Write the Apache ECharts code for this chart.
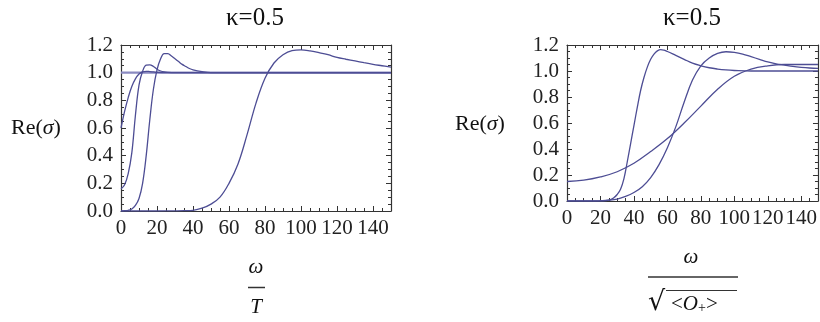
<!DOCTYPE html>
<html>
<head>
<meta charset="utf-8">
<script src="https://cdn.jsdelivr.net/npm/echarts@6/dist/echarts.min.js"></script>
<style>
  html, body { margin: 0; padding: 0; background: #fff; }
  #chart { width: 820px; height: 322px; }
</style>
</head>
<body>
<div id="chart"></div>
<script>
// left panel: Re(sigma) vs omega/T, kappa = 0.5
var leftA = [[0, 0.60], [2, 0.72], [4, 0.82], [6, 0.9], [8, 0.955], [10, 0.99], [12, 1.005], [14, 1.01], [16, 1.008], [18, 1.005], [20, 1.002], [25, 1.0], [30, 1.0], [150, 1.0]];
var leftB = [[0, 0.16], [2, 0.19], [4, 0.27], [6, 0.42], [8, 0.69], [10, 0.91], [12, 1.01], [14, 1.055], [16, 1.057], [18, 1.045], [20, 1.025], [22, 1.012], [24, 1.005], [26, 1.002], [30, 1.0], [150, 1.0]];
var leftC = [[0, 0], [2, 0.002], [4, 0.005], [6, 0.015], [8, 0.04], [10, 0.09], [12, 0.2], [14, 0.4], [16, 0.66], [18, 0.88], [20, 1.02], [22, 1.1], [24, 1.138], [26, 1.137], [28, 1.12], [30, 1.1], [32, 1.08], [34, 1.06], [36, 1.045], [38, 1.03], [40, 1.02], [45, 1.007], [50, 1.0], [60, 1.0], [150, 1.0]];
var leftD = [[0, 0], [10, 0], [20, 0], [30, 0.001], [35, 0.002], [40, 0.005], [45, 0.02], [50, 0.05], [55, 0.1], [60, 0.2], [65, 0.34], [70, 0.55], [75, 0.78], [80, 0.96], [85, 1.07], [90, 1.13], [95, 1.16], [100, 1.165], [105, 1.158], [110, 1.145], [115, 1.13], [120, 1.11], [125, 1.097], [130, 1.085], [135, 1.072], [140, 1.06], [145, 1.05], [150, 1.04]];
var leftE = [[0, 1.0], [150, 1.0]];

// right panel: Re(sigma) vs omega/sqrt(<O+>), kappa = 0.5
var rightP = [[0, 0.15], [10, 0.16], [20, 0.185], [30, 0.225], [40, 0.29], [50, 0.38], [60, 0.48], [70, 0.6], [80, 0.73], [90, 0.86], [100, 0.96], [110, 1.015], [120, 1.04], [130, 1.05], [140, 1.05], [150, 1.05]];
var rightQ = [[0, 0], [10, 0], [20, 0], [24, 0.004], [26, 0.01], [28, 0.025], [30, 0.05], [32, 0.09], [34, 0.17], [36, 0.3], [38, 0.44], [40, 0.58], [42, 0.72], [44, 0.85], [46, 0.95], [48, 1.03], [50, 1.09], [52, 1.13], [54, 1.155], [56, 1.165], [58, 1.16], [60, 1.15], [65, 1.12], [70, 1.09], [75, 1.06], [80, 1.04], [85, 1.025], [90, 1.015], [95, 1.008], [100, 1.004], [110, 1.0], [120, 1.0], [150, 1.0]];
var rightR = [[0, 0], [5, 0], [10, 0], [15, 0], [20, 0.002], [25, 0.006], [30, 0.015], [35, 0.035], [40, 0.065], [45, 0.11], [50, 0.18], [55, 0.28], [60, 0.41], [65, 0.57], [70, 0.76], [75, 0.93], [80, 1.04], [85, 1.1], [90, 1.135], [95, 1.148], [100, 1.143], [105, 1.13], [110, 1.11], [115, 1.09], [120, 1.07], [125, 1.055], [130, 1.045], [135, 1.035], [140, 1.028], [145, 1.023], [150, 1.02]];

var xTicks = { min: 0, max: 150, interval: 20 };
var yTicks = { min: 0, max: 1.2, interval: 0.2 };

var serif = '"Liberation Serif", "Times New Roman", serif';
var frameColor = '#333';
var curveColor = '#4d4d94';

//one frame edge: axis line + inward ticks, labels only on bottom/left
function makeAxis(dim, gridIndex, position, withLabels) {
    var t = dim === 'x' ? xTicks : yTicks;
    return {
        type: 'value',
        gridIndex: gridIndex,
        position: position,
        min: t.min,
        max: t.max,
        interval: t.interval,
        axisLine: { show: true, onZero: false, lineStyle: { color: frameColor, width: 1.2 } },
        axisTick: { show: true, inside: true, length: 5, lineStyle: { color: frameColor } },
        minorTick: { show: true, splitNumber: 4, length: 3, lineStyle: { color: frameColor } },
        splitLine: { show: false },
        axisLabel: {
            show: withLabels,
            showMaxLabel: dim === 'y',
            margin: dim === 'x' ? 7 : 8,
            fontFamily: serif,
            fontSize: 21,
            color: '#222',
            formatter: dim === 'y' ? function (v) { return v.toFixed(1); } : null
        }
    };
}

function curve(data, xIdx, yIdx, opts) {
    opts = opts || {};
    return {
        type: 'line',
        xAxisIndex: xIdx,
        yAxisIndex: yIdx,
        data: data,
        showSymbol: false,
        smooth: 0.4,
        lineStyle: { color: opts.color || curveColor, width: opts.width || 1.3 },
        silent: true,
        animation: false
    };
}

var titleStyle = { fill: '#111', fontFamily: serif, fontSize: 25 };
var textStyle = { fill: '#111', fontFamily: serif, fontSize: 21 };

var option = {
    animation: false,
    backgroundColor: '#fff',
    grid: [
        { left: 121, top: 45, width: 270, height: 166 },
        { left: 567, top: 45, width: 251, height: 156 }
    ],
    xAxis: [
        makeAxis('x', 0, 'bottom', true),
        makeAxis('x', 0, 'top', false),
        makeAxis('x', 1, 'bottom', true),
        makeAxis('x', 1, 'top', false)
    ],
    yAxis: [
        makeAxis('y', 0, 'left', true),
        makeAxis('y', 0, 'right', false),
        makeAxis('y', 1, 'left', true),
        makeAxis('y', 1, 'right', false)
    ],
    series: [
        curve(leftE, 0, 0, { color: '#8a8ac0', width: 2.2 }),
        curve(leftA, 0, 0),
        curve(leftB, 0, 0),
        curve(leftC, 0, 0),
        curve(leftD, 0, 0),
        curve(rightP, 2, 2),
        curve(rightQ, 2, 2),
        curve(rightR, 2, 2)
    ],
    graphic: [
        // titles
        { type: 'text', x: 255, y: 18, style: Object.assign({ text: 'κ=0.5', align: 'center', verticalAlign: 'middle' }, titleStyle) },
        { type: 'text', x: 692, y: 18, style: Object.assign({ text: 'κ=0.5', align: 'center', verticalAlign: 'middle' }, titleStyle) },
        // y labels
        { type: 'text', x: 11, y: 128, style: {
            text: 'Re({s|σ})', verticalAlign: 'middle', fontFamily: serif, fontSize: 22, fill: '#111',
            rich: { s: { fontFamily: serif, fontStyle: 'italic', fontSize: 22 } } } },
        { type: 'text', x: 455, y: 124, style: {
            text: 'Re({s|σ})', verticalAlign: 'middle', fontFamily: serif, fontSize: 22, fill: '#111',
            rich: { s: { fontFamily: serif, fontStyle: 'italic', fontSize: 22 } } } },
        // left x label: omega / T
        { type: 'text', x: 256, y: 267, style: Object.assign({ text: 'ω', align: 'center', verticalAlign: 'middle', fontStyle: 'italic' }, textStyle) },
        { type: 'line', shape: { x1: 248, y1: 287.5, x2: 265, y2: 287.5 }, style: { stroke: '#333', lineWidth: 1.5 } },
        { type: 'text', x: 256, y: 307, style: Object.assign({ text: 'T', align: 'center', verticalAlign: 'middle', fontStyle: 'italic' }, textStyle) },
        // right x label: omega / sqrt(<O+>)
        { type: 'text', x: 691, y: 257, style: Object.assign({ text: 'ω', align: 'center', verticalAlign: 'middle', fontStyle: 'italic' }, textStyle) },
        { type: 'line', shape: { x1: 648, y1: 277, x2: 738, y2: 277 }, style: { stroke: '#333', lineWidth: 1.5 } },
        { type: 'text', x: 648, y: 303, style: { text: '√', verticalAlign: 'middle', fontFamily: '"DejaVu Serif", serif', fontSize: 27, fill: '#111' } },
        { type: 'line', shape: { x1: 666, y1: 290.5, x2: 737, y2: 290.5 }, style: { stroke: '#333', lineWidth: 1.2 } },
        { type: 'text', x: 671, y: 304, style: {
            text: '<{o|O}{sub|+}>', verticalAlign: 'middle', fontFamily: serif, fontSize: 21, fill: '#111',
            rich: {
                o: { fontFamily: serif, fontStyle: 'italic', fontSize: 21 },
                sub: { fontFamily: serif, fontSize: 14, padding: [9, 0, 0, 0] }
            } } }
    ]
};

var chart = echarts.init(document.getElementById('chart'), null, { renderer: 'canvas' });
chart.setOption(option);
</script>
</body>
</html>
